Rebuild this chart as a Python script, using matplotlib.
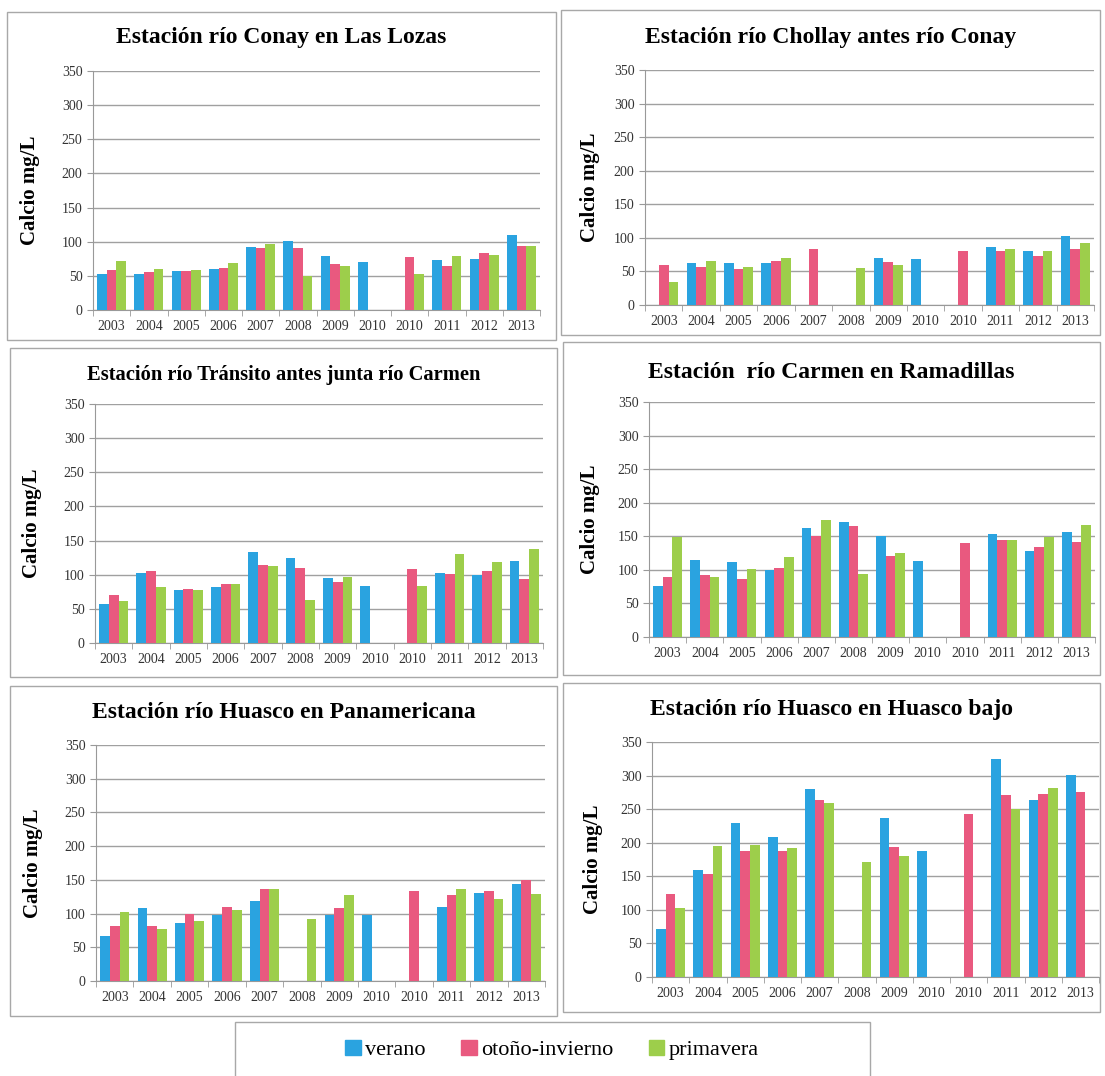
import numpy as np
import matplotlib
matplotlib.use("Agg")
import matplotlib.pyplot as plt
from matplotlib.patches import Patch, Rectangle

plt.rcParams['font.family'] = ['Liberation Serif', 'DejaVu Serif']

years = ['2003', '2004', '2005', '2006', '2007', '2008', '2009', '2010',
         '2010', '2011', '2012', '2013']
seasons = ['verano', 'otoño-invierno', 'primavera']
colors = ['#2aa3e0', '#e9597f', '#9dce4b']
nan = np.nan

# calcio (mg/L) por estacion: verano, otono-invierno, primavera
conay_lozas_ver = [53, 53, 57, 60, 92, 101, 79, 70, nan, 73, 74, 110]
conay_lozas_oto = [59, 55, 57, 62, 91, 91, 67, nan, 77, 64, 83, 93]
conay_lozas_pri = [72, 60, 59, 69, 96, 50, 65, nan, 52, 79, 81, 93]

chollay_ver = [nan, 62, 62, 62, nan, nan, 70, 69, nan, 86, 81, 103]
chollay_oto = [59, 57, 53, 66, 84, nan, 64, nan, 80, 80, 73, 84]
chollay_pri = [35, 66, 57, 70, nan, 55, 59, nan, nan, 84, 80, 92]

transito_ver = [57, 103, 77, 82, 133, 125, 95, 84, nan, 103, 100, 120]
transito_oto = [70, 106, 79, 86, 114, 110, 90, nan, 109, 101, 106, 93]
transito_pri = [61, 82, 78, 87, 113, 63, 97, nan, 83, 130, 118, 138]

carmen_ver = [76, 115, 112, 100, 162, 171, 151, 113, nan, 153, 128, 157]
carmen_oto = [90, 92, 87, 103, 151, 165, 120, nan, 140, 144, 134, 141]
carmen_pri = [149, 90, 102, 119, 175, 94, 125, nan, nan, 144, 149, 167]

panam_ver = [67, 108, 86, 98, 118, nan, 98, 98, nan, 110, 130, 144]
panam_oto = [82, 82, 100, 110, 137, nan, 109, nan, 134, 127, 133, 150]
panam_pri = [103, 77, 89, 106, 137, 92, 128, nan, nan, 136, 121, 129]

bajo_ver = [71, 160, 229, 209, 280, nan, 237, 188, nan, 325, 263, 301]
bajo_oto = [124, 153, 187, 187, 263, nan, 193, nan, 243, 271, 273, 276]
bajo_pri = [103, 195, 197, 192, 259, 171, 180, nan, nan, 250, 281, nan]

W, H = 1105, 1076
fig = plt.figure(figsize=(W / 100, H / 100), dpi=100)


def px_rect(x0, y0, x1, y1):
    return [x0 / W, 1 - y1 / H, (x1 - x0) / W, (y1 - y0) / H]


panels = [
    # title, series, axes px box, frame px box, title y, title size, ylabel x
    ('Estación río Conay en Las Lozas',
     (conay_lozas_ver, conay_lozas_oto, conay_lozas_pri),
     (93, 71, 540, 310), (7, 12, 556, 340), 38, 17, 40),
    ('Estación río Chollay antes río Conay',
     (chollay_ver, chollay_oto, chollay_pri),
     (645, 70, 1094, 305), (561, 10, 1100, 335), 38, 17, 600),
    ('Estación río Tránsito antes junta río Carmen',
     (transito_ver, transito_oto, transito_pri),
     (95, 404, 543, 643), (10, 348, 557, 677), 375, 14.8, 42),
    ('Estación  río Carmen en Ramadillas',
     (carmen_ver, carmen_oto, carmen_pri),
     (649, 402, 1095, 637), (563, 342, 1100, 675), 372, 17, 600),
    ('Estación río Huasco en Panamericana',
     (panam_ver, panam_oto, panam_pri),
     (96, 745, 545, 981), (10, 686, 557, 1016), 712, 17, 43),
    ('Estación río Huasco en Huasco bajo',
     (bajo_ver, bajo_oto, bajo_pri),
     (652, 742, 1099, 977), (563, 683, 1100, 1012), 710, 17, 603),
]

x = np.arange(len(years))
bw = 0.26
for title, series, abox, fbox, ty, tsize, ylx in panels:
    # marco gris de cada grafico
    fx0, fy0, fx1, fy1 = fbox
    fig.patches.append(Rectangle((fx0 / W, 1 - fy1 / H), (fx1 - fx0) / W,
                                 (fy1 - fy0) / H, transform=fig.transFigure,
                                 fill=False, edgecolor='#a8a8a8', lw=1))
    ax = fig.add_axes(px_rect(*abox))
    for i, vals in enumerate(series):
        ax.bar(x + (i - 1) * bw, vals, bw, color=colors[i], zorder=3)
    ax.set_ylim(0, 350)
    ax.set_yticks(range(0, 351, 50))
    ax.set_xlim(-0.5, len(years) - 0.5)
    ax.set_xticks(x)
    ax.set_xticklabels(years)
    ax.set_xticks(np.arange(-0.5, len(years)), minor=True)
    ax.tick_params(axis='x', which='major', length=0, pad=7,
                   labelsize=10, labelcolor='#333333')
    ax.tick_params(axis='x', which='minor', length=4, color='#999999')
    ax.tick_params(axis='y', length=4, color='#999999', labelsize=10,
                   labelcolor='#333333')
    ax.grid(axis='y', color='#a0a0a0', lw=1, zorder=0)
    for s in ('top', 'right'):
        ax.spines[s].set_visible(False)
    for s in ('left', 'bottom'):
        ax.spines[s].set_color('#999999')
    ax.set_ylabel('Calcio mg/L', fontsize=15, fontweight='bold')
    ax.yaxis.set_label_coords((ylx - abox[0]) / (abox[2] - abox[0]), 0.5)
    fig.text((fx0 + fx1) / 2 / W, 1 - ty / H, title, ha='center',
             va='center', fontsize=tsize, fontweight='bold')

# recuadro de la leyenda
fig.patches.append(Rectangle((235 / W, -0.01), (870 - 235) / W,
                             1 - 1022 / H + 0.01, transform=fig.transFigure,
                             fill=False, edgecolor='#a8a8a8', lw=1))
handles = [Patch(color=c, label=s) for c, s in zip(colors, seasons)]
fig.legend(handles=handles, loc='center', bbox_to_anchor=(552 / W, 1 - 1050 / H),
           ncol=3, frameon=False, fontsize=16, handlelength=0.7,
           handleheight=0.7, handletextpad=0.2, columnspacing=1.6)

fig.savefig('out.png', dpi=100)
